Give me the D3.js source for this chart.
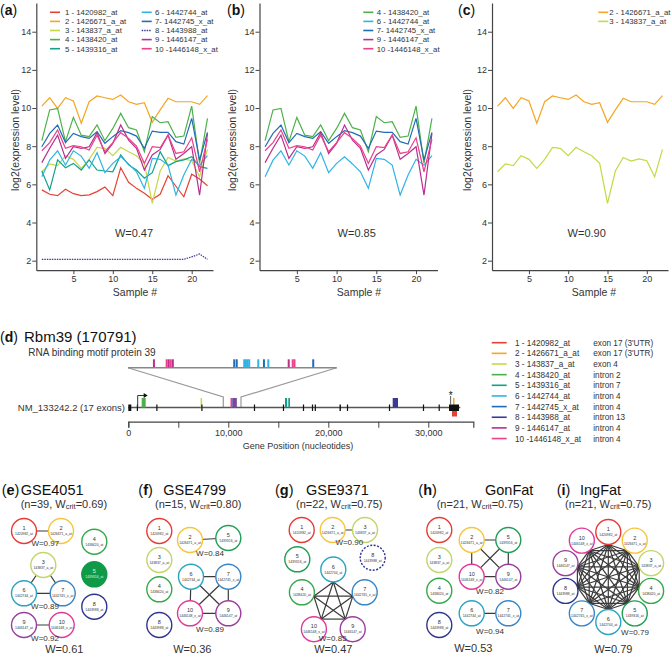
<!DOCTYPE html>
<html><head><meta charset="utf-8">
<script src="https://cdn.jsdelivr.net/npm/d3@7"></script>
<style>
body{margin:0;background:#fff;}
svg{display:block;font-family:"Liberation Sans",Arial,Helvetica,sans-serif;}
</style></head><body>
<svg id="chart" width="672" height="656"></svg>
<script>
// ---------------- DATA ----------------
const samples = [1,2,3,4,5,6,7,8,9,10,11,12,13,14,15,16,17,18,19,20,21,22];
const probeIds = ["1420982_at","1426671_a_at","143837_a_at","1438420_at","1439316_at","1442744_at","1442745_x_at","1443988_at","1446147_at","1446148_x_at"];
const legendLabels = ["1 - 1420982_at","2 - 1426671_a_at","3 - 143837_a_at","4 - 1438420_at","5 - 1439316_at","6 - 1442744_at","7- 1442745_x_at","8 - 1443988_at","9 - 1446147_at","10 -1446148_x_at"];
const geneLegendLabels = ["1 - 1420982_at","2 - 1426671_a_at","3 - 143837_a_at","4 - 1438420_at","5 - 1439316_at","6 - 1442744_at","7 - 1442745_x_at","8 - 1443988_at","9 - 1446147_at","10 -1446148_x_at"];
const probeLocations = ["exon 17 (3'UTR)","exon 17 (3'UTR)","exon 4","intron 2","intron 7","intron 4","intron 4","intron 13","intron 4","intron 4"];
const lineColors = ["#e34234","#f5a623","#c5d845","#4db04a","#12a08a","#2fb3e4","#1f6db4","#3a3a9a","#b82f8c","#ec3f8c"];
const nodeColors = ["#e63b35","#f7c53d","#c2d56b","#36a94a","#1f9e55","#2aa4c2","#3986c6","#2e3590","#9a3d9d","#e03a98"];

const p1  = [5.71,5.48,5.41,5.74,5.51,5.41,5.45,5.62,5.86,5.41,6.87,6.11,5.79,5.53,5.22,5.48,6.45,5.90,5.35,6.53,6.28,5.93];
const p2  = [10.10,10.54,9.98,10.54,10.37,9.20,10.33,10.63,10.54,10.45,10.68,10.33,10.19,10.28,9.25,9.90,10.51,10.33,10.33,10.33,10.19,10.65];
const p3  = [6.66,7.07,6.98,7.50,7.31,6.84,7.31,7.94,7.89,7.50,7.94,7.71,7.50,7.10,5.00,6.70,7.41,7.22,7.33,7.24,6.40,7.83];
const p4  = [8.29,9.90,9.98,8.24,9.51,8.58,8.50,9.11,8.29,8.93,9.72,8.97,8.85,7.71,9.55,9.23,9.28,8.46,8.53,10.10,7.10,9.46];
const p5  = [6.70,5.71,7.28,6.87,7.10,6.75,7.28,6.75,6.70,6.66,7.54,7.02,6.75,6.32,6.61,7.71,6.98,7.19,7.28,7.45,6.93,6.84];
const p6  = [6.40,7.27,7.76,7.01,7.76,7.48,6.84,7.66,6.61,7.10,7.45,7.07,6.66,5.79,7.36,7.31,7.01,5.44,6.49,7.31,7.00,7.50];
const p7  = [7.97,8.67,9.11,8.19,8.67,8.50,8.41,8.76,8.15,8.50,8.81,8.71,8.53,7.89,8.79,8.72,8.72,8.24,8.11,9.46,7.27,8.72];
const p8  = [2.07,2.07,2.07,2.07,2.07,2.07,2.07,2.07,2.07,2.07,2.07,2.07,2.07,2.07,2.07,2.07,2.07,2.07,2.07,2.20,2.35,2.07];
const p9  = [7.14,7.89,8.58,7.36,7.97,7.89,7.97,8.71,7.62,8.15,9.11,8.32,7.89,6.75,7.54,7.83,8.58,7.31,7.62,7.97,5.44,8.67];
const p10 = [7.76,8.19,8.85,7.89,8.03,7.97,7.80,8.58,7.71,8.19,8.71,8.41,8.01,7.10,7.97,7.92,8.58,7.62,7.71,8.44,6.66,8.36];
const seriesValues = [p1,p2,p3,p4,p5,p6,p7,p8,p9,p10];

const yTicks = [2,4,6,8,10,12,14];
const xTicks = [5,10,15,20];
const panelLetters = ["a","b","c"];
const panelSeries = [[1,2,3,4,5,6,7,8,9,10],[4,6,7,9,10],[2,3]];
const panelW = ["W=0.47","W=0.85","W=0.90"];

// gene panel (d)
const geneName = "Rbm39 (170791)";
const geneDesc = "RNA binding motif protein 39";
const transcript = "NM_133242.2 (17 exons)";
const geneLength = 33200;
const geneTicks = [0,5000,10000,15000,20000,25000,30000];
const exonStarts = [0,850,2800,7300,12560,15460,17460,18360,18640,21120,21860,26060,29460,31030,32070];
const exonEnds   = [300,950,2900,7420,12640,15540,17580,18460,18720,21260,21940,26140,29540,31110,33070];
const trackProbe = [4,3,10,7,9,5,5,8,2,1];
const trackStart = [1340,7230,10220,10400,10400,15670,16000,26440,32470,32370];
const trackEnd   = [1740,7330,10300,10840,10840,15880,16170,26970,32600,32870];
const trackSide  = ["up","up","up","up","up","up","up","up","up","down"];
const tssPos = 940;
const polyAPos = 32230;
const zoomRange = [9500,11270];
const zoomProbe = [9,10,9,10,9,7,7,6,6,6,6,6,7,6,9,10,10,7];
const zoomPos   = [9720,9828,9845,9862,9880,10401,10422,10486,10500,10514,10528,10605,10653,10690,10863,10897,10912,11071];

// networks (e)-(i)
const netLetters = ["e","f","g","h","i"];
const netNames = ["GSE4051","GSE4799","GSE9371","GonFat","IngFat"];
const netN = [39,15,22,21,21];
const netWcrit = ["0.69","0.80","0.75","0.75","0.75"];
const netW = ["0.61","0.36","0.47","0.53","0.79"];
const netGroups = [
  [[1,2],[3,6,7],[9,10]],
  [[2,5],[6,7,9,10]],
  [[2,3],[6,7,9,10,4]],
  [[2,5,9,10],[6,7]],
  [[1,2,3,4,5,6,7,8,9,10]]
];
const netGroupW = [["0.97","0.89","0.92"],["0.84","0.89"],["0.90","0.85"],["0.82","0.94"],["0.79"]];
const netFilled = [[5],[],[],[],[]];
const netDashed = [[],[],[8],[],[]];

// ---------------- DRAW ----------------
const svg = d3.select("#chart");
const TXT = "#333";

function styleAxis(sel){
  sel.select(".domain").attr("stroke","#444").attr("stroke-width",1.2);
  sel.selectAll(".tick line").attr("stroke","#444").attr("stroke-width",1);
  sel.selectAll(".tick text").attr("fill",TXT).attr("font-size","9px").attr("font-family",null);
}

const panelLayout = [
  {x0:36.3, x1:213, letterX:0, legendCols:[{lx:50,tx:65,items:[1,2,3,4,5]},{lx:141.7,tx:155,items:[6,7,8,9,10]}], wX:134, yLabX:15, xLabX:135},
  {x0:259.5,x1:437.5,letterX:227,legendCols:[{lx:363.3,tx:376.7,items:[4,6,7,9,10]}], wX:356.7, yLabX:232.3, xLabX:359},
  {x0:492, x1:668, letterX:458, legendCols:[{lx:598.3,tx:609.3,items:[2,3]}], wX:586.7, yLabX:467.3, xLabX:594}
];

panelLayout.forEach((L, pi) => {
  const g = svg.append("g");
  const x = d3.scaleLinear().domain([0.3,22.7]).range([L.x0, L.x1]);
  const y = d3.scaleLinear().domain([1.5,15.5]).range([270.2,3.1]);
  g.append("g").attr("transform",`translate(0,${y(1.5)})`)
    .call(d3.axisBottom(x).tickValues(xTicks).tickSize(4).tickSizeOuter(0).tickPadding(1))
    .call(styleAxis);
  g.append("g").attr("transform",`translate(${x(0.3)},0)`)
    .call(d3.axisLeft(y).tickValues(yTicks).tickSize(4).tickSizeOuter(0).tickPadding(1))
    .call(styleAxis);
  const line = d3.line().x((d,i)=>x(samples[i])).y(d=>y(d));
  panelSeries[pi].forEach(k => {
    g.append("path").datum(seriesValues[k-1]).attr("d",line)
      .attr("fill","none").attr("stroke",lineColors[k-1]).attr("stroke-width",1.2)
      .attr("stroke-dasharray", k===8 ? "1.5,1" : null);
  });
  // legend
  L.legendCols.forEach(col => {
    col.items.forEach((k,ri) => {
      const yy = 12.3 + ri*9.1;
      g.append("line").attr("x1",col.lx).attr("x2",col.lx+10).attr("y1",yy).attr("y2",yy)
        .attr("stroke",lineColors[k-1]).attr("stroke-width",1.6)
        .attr("stroke-dasharray", k===8 ? "1.5,1" : null);
      g.append("text").attr("x",col.tx).attr("y",yy+2.8).attr("font-size","7.8px").attr("fill",TXT)
        .text(legendLabels[k-1]);
    });
  });
  g.append("text").attr("x",L.wX).attr("y",237).attr("text-anchor","middle")
    .attr("font-size","11px").attr("fill",TXT).text(panelW[pi]);
  g.append("text").attr("transform",`translate(${L.yLabX+3.5},140) rotate(-90)`).attr("text-anchor","middle")
    .attr("font-size","10.5px").attr("fill",TXT).text("log2(expression level)");
  g.append("text").attr("x",L.xLabX).attr("y",295.5).attr("text-anchor","middle")
    .attr("font-size","10.5px").attr("fill",TXT).text("Sample #");
  const lt = g.append("text").attr("x",L.letterX).attr("y",15).attr("font-size","14px").attr("fill","#111");
  lt.append("tspan").text("(");
  lt.append("tspan").attr("font-weight","bold").text(panelLetters[pi]);
  lt.append("tspan").text(")");
});

// ---------- panel (d) ----------
{
  const g = svg.append("g");
  const gx = d3.scaleLinear().domain([0,34500]).range([128.3,473.3]);
  const zx = d3.scaleLinear().domain(zoomRange).range([128,336.7]);
  const t = g.append("text").attr("x",0).attr("y",341.5).attr("font-size","15px").attr("fill","#111");
  t.append("tspan").attr("font-size","14px").text("(");
  t.append("tspan").attr("font-size","14px").attr("font-weight","bold").text("d");
  t.append("tspan").attr("font-size","14px").text(")");
  t.append("tspan").attr("x",24).text(geneName);
  g.append("text").attr("x",28.3).attr("y",356).attr("font-size","10px").attr("fill",TXT).text(geneDesc);

  // zoom connectors
  g.append("path").attr("d",`M${zx(zoomRange[0])},367.7 L${gx(zoomRange[0])},397 V407.5 M${zx(zoomRange[1])},367.7 L${gx(zoomRange[1])},397 V407.5`)
    .attr("fill","none").attr("stroke","#999").attr("stroke-width",1.2);
  g.append("line").attr("x1",zx(zoomRange[0])).attr("x2",zx(zoomRange[1])).attr("y1",367.7).attr("y2",367.7)
    .attr("stroke","#888").attr("stroke-width",1.5);
  zoomPos.forEach((p,i)=>{
    g.append("rect").attr("x",zx(p)-1).attr("width",2).attr("y",359.3).attr("height",8)
      .attr("fill",lineColors[zoomProbe[i]-1]);
  });

  // main gene line
  g.append("line").attr("x1",gx(0)).attr("x2",gx(geneLength)).attr("y1",407.5).attr("y2",407.5)
    .attr("stroke","#555").attr("stroke-width",1.3);
  // probe marks
  trackProbe.forEach((k,i)=>{
    const up = trackSide[i]==="up";
    g.append("rect").attr("x",gx(trackStart[i])).attr("width",Math.max(1.5,gx(trackEnd[i])-gx(trackStart[i])))
      .attr("y", up ? 398 : 410).attr("height", up ? 9.5 : 6.5)
      .attr("fill",lineColors[k-1]).attr("opacity", k===9 ? 0.6 : 1);
  });
  // exons
  exonStarts.forEach((s,i)=>{
    g.append("rect").attr("x",gx(s)).attr("width",Math.max(1.2,gx(exonEnds[i])-gx(s)))
      .attr("y",404.5).attr("height",6.5).attr("fill","#111");
  });
  // TSS arrow
  g.append("path").attr("d",`M${gx(tssPos)},407 V395.5 H${gx(tssPos)+7}`).attr("fill","none")
    .attr("stroke","#333").attr("stroke-width",1);
  g.append("path").attr("d",`M${gx(tssPos)+10},395.5 l-4,-2.5 v5 z`).attr("fill","#111");
  // polyA asterisk
  g.append("line").attr("x1",gx(polyAPos)).attr("x2",gx(polyAPos)).attr("y1",396).attr("y2",404.5)
    .attr("stroke","#333").attr("stroke-width",0.8);
  g.append("text").attr("x",gx(polyAPos)).attr("y",398.5).attr("text-anchor","middle").attr("font-size","10px")
    .attr("fill","#111").text("*");
  g.append("text").attr("x",125).attr("y",410.8).attr("text-anchor","end").attr("font-size","9.5px")
    .attr("fill",TXT).text(transcript);
  // gene axis
  g.append("g").attr("transform","translate(0,421.7)")
    .call(d3.axisBottom(gx).tickValues(geneTicks).tickSize(6).tickSizeOuter(6).tickPadding(2)
      .tickFormat(d => d%10000===0 ? d3.format(",")(d) : ""))
    .call(styleAxis);
  g.append("text").attr("x",298).attr("y",448.5).attr("text-anchor","middle").attr("font-size","9px")
    .attr("fill",TXT).text("Gene Position (nucleotides)");
  // legend
  probeIds.forEach((p,i)=>{
    const yy = 342.7 + i*10.65;
    g.append("line").attr("x1",491.7).attr("x2",506.7).attr("y1",yy).attr("y2",yy)
      .attr("stroke",lineColors[i]).attr("stroke-width",1.6);
    g.append("text").attr("x",515).attr("y",yy+3).attr("font-size","8.2px").attr("fill",TXT).text(geneLegendLabels[i]);
    g.append("text").attr("x",593.3).attr("y",yy+3).attr("font-size","8.2px").attr("fill",TXT).text(probeLocations[i]);
  });
}

// ---------- networks ----------
const R = 12.5;
function pentagon(nodes, cx, cy, rad){
  const o = {};
  nodes.forEach((n,i)=>{ const a = (-90 + i*72)*Math.PI/180; o[n] = [cx+rad*Math.cos(a), cy+rad*Math.sin(a)]; });
  return o;
}
function ring(nodes, cx, cy, rad){
  const o = {};
  nodes.forEach((n,i)=>{ const a = (-90 + i*360/nodes.length)*Math.PI/180; o[n] = [cx+rad*Math.cos(a), cy+rad*Math.sin(a)]; });
  return o;
}
const netLayout = [
  {pos:{1:[24,531],2:[61,531],3:[43.3,565],4:[94.3,541.7],5:[94.3,574.3],6:[24,593.3],7:[62.7,593.3],8:[94.3,606.7],9:[24,625],10:[61.7,625]},
   letterX:1.7, nameX:20.7, subX:20.7, gw:[[45.3,543.3],[45,606],[45,637.7]], W:[64.3,653]},
  {pos:{1:[159.3,531],2:[190,540],5:[228.3,538],3:[159.3,560],6:[191,576.7],7:[228.3,576.7],4:[159.3,589.3],10:[190,613.3],9:[228.3,613.3],8:[159.3,625]},
   letterX:138.3, nameX:163.3, subX:155, gw:[[210,552.7],[210,629]], W:[192.3,653]},
  {pos:Object.assign({1:[301.7,530],2:[332.7,530],3:[365,530],5:[297.3,559.3],8:[372.7,557.7]}, pentagon([6,7,9,10,4],333.3,602.5,33)),
   letterX:275, nameX:306, subX:296, gw:[[349.3,542.3],[332.7,638.3]], W:[333.3,653]},
  {pos:{1:[439.3,530],3:[439.3,560],4:[439.3,590.7],8:[439.3,625],2:[471.7,540],5:[508.3,540],10:[471.7,576.7],9:[508.3,576.7],6:[471.7,613.3],7:[508.3,613.3]},
   letterX:418.3, nameX:485, subX:436.7, gw:[[490,590.7],[490,630.7]], W:[473.3,652]},
  {pos:ring([1,2,3,4,5,6,7,8,9,10],608.3,577,45),
   letterX:556.7, nameX:580, subX:565, gw:[[635,632.3]], W:[613.3,653]}
];

netLayout.forEach((L, ni) => {
  const g = svg.append("g");
  // title
  const t = g.append("text").attr("x",L.letterX).attr("y",495).attr("font-size","14.5px").attr("fill","#111");
  t.append("tspan").text("(");
  t.append("tspan").attr("font-weight","bold").text(netLetters[ni]);
  t.append("tspan").text(")");
  g.append("text").attr("x",L.nameX).attr("y",495).attr("font-size","14.5px").attr("fill","#111").text(netNames[ni]);
  const s = g.append("text").attr("x",L.subX).attr("y",507.5).attr("font-size","11px").attr("fill",TXT);
  s.append("tspan").text(`(n=${netN[ni]}, W`);
  s.append("tspan").attr("font-size","7.5px").attr("dy",1).text("crit");
  s.append("tspan").attr("dy",-1).text(`=${netWcrit[ni]})`);

  // edges
  netGroups[ni].forEach(grp => {
    const big = grp.length >= 5;
    const cx = d3.mean(grp, n=>L.pos[n][0]), cy = d3.mean(grp, n=>L.pos[n][1]);
    const anchor = {};
    grp.forEach(n=>{
      const [px,py] = L.pos[n];
      if (big){ const dx=cx-px, dy=cy-py, d=Math.hypot(dx,dy); anchor[n]=[px+R*dx/d, py+R*dy/d]; }
      else anchor[n]=[px,py];
    });
    for (let a=0;a<grp.length;a++) for (let b=a+1;b<grp.length;b++){
      g.append("line").attr("x1",anchor[grp[a]][0]).attr("y1",anchor[grp[a]][1])
        .attr("x2",anchor[grp[b]][0]).attr("y2",anchor[grp[b]][1])
        .attr("stroke","#3a3a3a").attr("stroke-width",1.2);
    }
    if (big) grp.forEach(n=>{
      g.append("circle").attr("cx",anchor[n][0]).attr("cy",anchor[n][1]).attr("r",1.3).attr("fill","#222");
    });
  });
  // nodes
  Object.keys(L.pos).map(Number).sort((a,b)=>a-b).forEach(n=>{
    const [px,py] = L.pos[n];
    const filled = netFilled[ni].includes(n);
    g.append("circle").attr("cx",px).attr("cy",py).attr("r",R)
      .attr("fill", filled ? "#109a48" : "#fff")
      .attr("stroke", filled ? "#109a48" : nodeColors[n-1]).attr("stroke-width",1.4)
      .attr("stroke-dasharray", netDashed[ni].includes(n) ? "2,1.5" : null);
    g.append("text").attr("x",px).attr("y",py-1).attr("text-anchor","middle").attr("font-size","5.5px")
      .attr("fill", filled ? "#cfe" : "#333").text(n);
    g.append("text").attr("x",px).attr("y",py+4).attr("text-anchor","middle").attr("font-size","3.4px")
      .attr("fill", filled ? "#cfe" : "#333").text(probeIds[n-1]);
  });
  // group W labels
  L.gw.forEach((p,gi)=>{
    g.append("text").attr("x",p[0]).attr("y",p[1]+2.8).attr("text-anchor","middle").attr("font-size","8px")
      .attr("fill",TXT).text("W=" + netGroupW[ni][gi]);
  });
  g.append("text").attr("x",L.W[0]).attr("y",L.W[1]).attr("text-anchor","middle").attr("font-size","11px")
    .attr("fill",TXT).text("W=" + netW[ni]);
});
</script>
</body></html>
